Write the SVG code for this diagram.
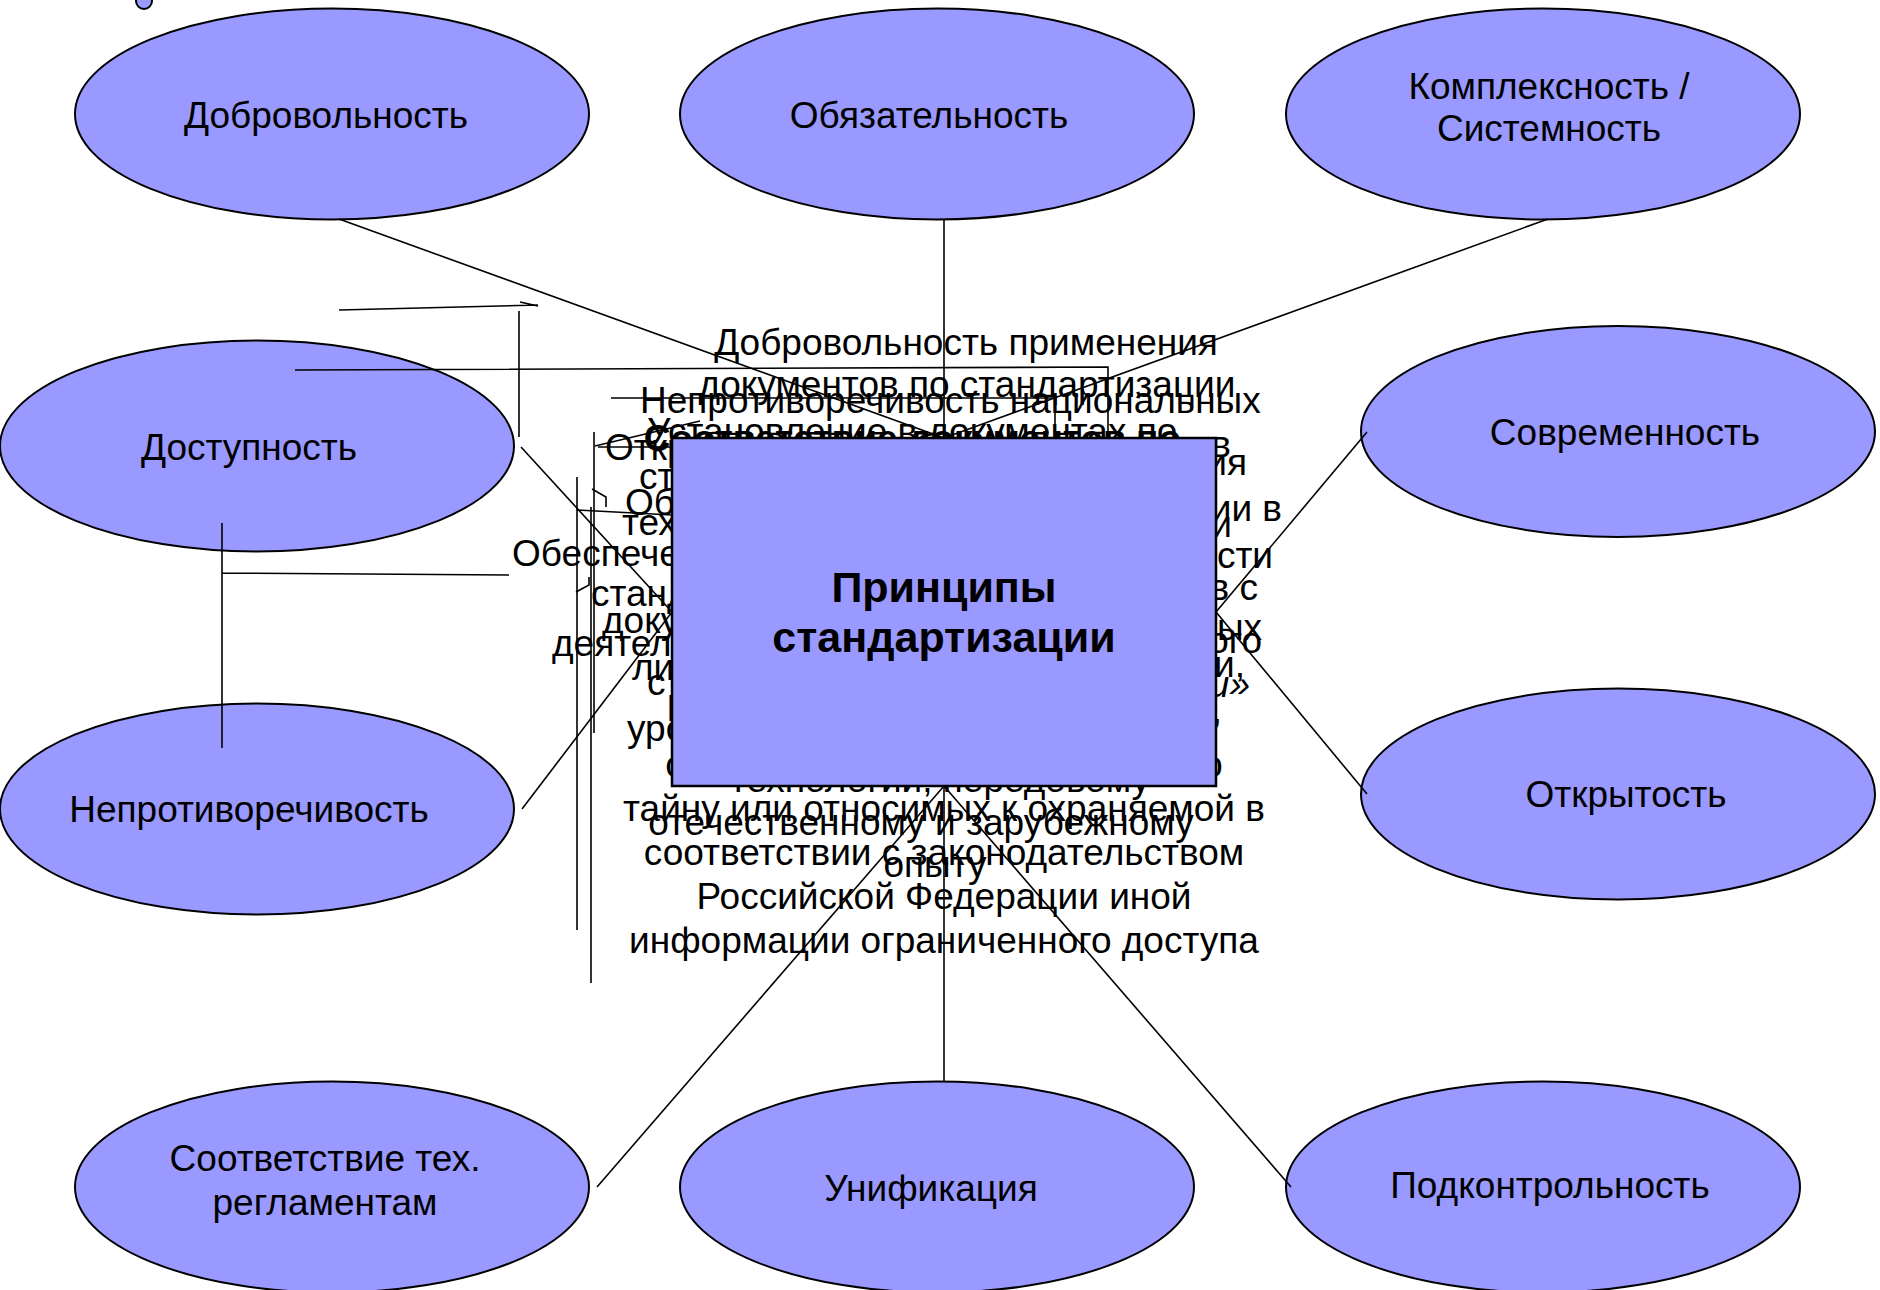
<svg xmlns="http://www.w3.org/2000/svg" width="1880" height="1290" viewBox="0 0 1880 1290">
<style>
.n{fill:#9999FF;stroke:#000;stroke-width:2}
.t{font-family:"Liberation Sans",Arial,sans-serif;font-size:37px;fill:#000}
.c{text-anchor:middle}
.e{text-anchor:end}
.b{font-weight:bold}
.i{font-style:italic}
.ln{stroke:#000;stroke-width:1.6;fill:none}
.title{font-family:"Liberation Sans",Arial,sans-serif;font-size:43px;font-weight:bold;text-anchor:middle;fill:#000}
</style>
<rect width="1880" height="1290" fill="#fff"/>

<g id="dot"><ellipse class="n" cx="144" cy="1" rx="8" ry="8"/></g>

<g id="n-dobrovolnost"><ellipse class="n" cx="332" cy="114" rx="257" ry="105.5"/><text class="t c" x="326" y="128">Добровольность</text></g>
<g id="n-obyazatelnost"><ellipse class="n" cx="937" cy="114" rx="257" ry="105.5"/><text class="t c" x="929" y="128">Обязательность</text></g>
<g id="n-kompleksnost"><ellipse class="n" cx="1543" cy="114" rx="257" ry="105.5"/><text class="t c" x="1549" y="99">Комплексность /</text><text class="t c" x="1549" y="141">Системность</text></g>
<g id="n-dostupnost"><ellipse class="n" cx="257" cy="446" rx="257" ry="105.5"/><text class="t c" x="249" y="460">Доступность</text></g>
<g id="n-sovremennost"><ellipse class="n" cx="1618" cy="431.5" rx="257" ry="105.5"/><text class="t c" x="1625" y="445">Современность</text></g>
<g id="n-neprotivorechivost"><ellipse class="n" cx="257" cy="809" rx="257" ry="105.5"/><text class="t c" x="249" y="822">Непротиворечивость</text></g>
<g id="n-otkrytost"><ellipse class="n" cx="1618" cy="794" rx="257" ry="105.5"/><text class="t c" x="1626" y="807">Открытость</text></g>
<g id="n-sootvetstvie"><ellipse class="n" cx="332" cy="1187" rx="257" ry="105.5"/><text class="t c" x="325" y="1171">Соответствие тех.</text><text class="t c" x="325" y="1215">регламентам</text></g>
<g id="n-unifikaciya"><ellipse class="n" cx="937" cy="1187" rx="257" ry="105.5"/><text class="t c" x="931" y="1201">Унификация</text></g>
<g id="n-podkontrolnost"><ellipse class="n" cx="1543" cy="1187" rx="257" ry="105.5"/><text class="t c" x="1550" y="1198">Подконтрольность</text></g>

<g id="descriptions">
<text class="t c" x="966" y="355">Добровольность применения</text>
<text class="t c" x="967" y="397">документов по стандартизации</text>
<text class="t" x="640" y="413">Непротиворечивость национальных</text>
<text class="t" x="647" y="444">Установление в документах по</text>
<text class="t e b" x="1181" y="451">Соответствие документов по</text>
<text class="t" x="605" y="460">Открытость разработки</text>
<text class="t e" x="1231" y="457">участия в</text>
<text class="t e" x="1247" y="475">обеспечения</text>
<text class="t" x="639" y="489">стандартов</text>
<text class="t" x="625" y="515">Обязательность</text>
<text class="t e" x="1282" y="521">стандартизации в</text>
<text class="t" x="622" y="535">технических</text>
<text class="t e" x="1232" y="537">технологии</text>
<text class="t" x="512" y="566">Обеспечение единства</text>
<text class="t e" x="1273" y="568">стабильности</text>
<text class="t e" x="1258" y="600">интересов с</text>
<text class="t" x="591" y="606">стандартизации</text>
<text class="t" x="602" y="633">документов</text>
<text class="t e" x="1262" y="640">национальных</text>
<text class="t e" x="1262" y="653">федерального</text>
<text class="t" x="552" y="656">деятельности</text>
<text class="t e" x="1245" y="677">стандартизации,</text>
<text class="t" x="632" y="680">лиц</text>
<text class="t" x="647" y="695">с учетом</text>
<text class="t e i" x="1250" y="697">«О стандартизации»</text>
<text class="t b" x="667" y="721">Единство</text>
<text class="t e" x="1222" y="723">технологий,</text>
<text class="t" x="627" y="741">уровню</text>
<text class="t c" x="944" y="777">составляющих государственную</text>
<text class="t c" x="940" y="792">технологий, передовому</text>
<text class="t c" x="944" y="821">тайну или относимых к охраняемой в</text>
<text class="t c" x="921" y="835">отечественному и зарубежному</text>
<text class="t c" x="944" y="865">соответствии с законодательством</text>
<text class="t c" x="935" y="877">опыту</text>
<text class="t c" x="944" y="909">Российской Федерации иной</text>
<text class="t c" x="944" y="953">информации ограниченного доступа</text>
</g>

<g id="stray-lines" class="ln">
<path d="M339 310 L538 305 M520 302 L538 306"/>
<path d="M519 311 V437"/>
<path d="M295 370 L1108 367 V437"/>
<path d="M611 398 H1055 V437"/>
<path d="M595 446 L700 421"/>
<path d="M598 447 H672"/>
<path d="M594 432 V733"/>
<path d="M577 477 V930"/>
<path d="M591 507 V983"/>
<path d="M577 510 L672 515"/>
<path d="M592 489 L606 497 V507"/>
<path d="M576 592 L589 585 V577"/>
<path d="M222 523 V748 M222 573 L509 575"/>
</g>

<g id="connectors" class="ln">
<line x1="339" y1="219" x2="944" y2="438"/>
<line x1="944" y1="219" x2="944" y2="438"/>
<line x1="1548" y1="219" x2="944" y2="438"/>
<line x1="521" y1="447" x2="672" y2="612"/>
<line x1="522" y1="809" x2="672" y2="612"/>
<line x1="1367" y1="432" x2="1216" y2="612"/>
<line x1="1367" y1="794" x2="1216" y2="612"/>
<line x1="944" y1="786" x2="597" y2="1187"/>
<line x1="944" y1="786" x2="944" y2="1081"/>
<line x1="944" y1="786" x2="1291" y2="1187"/>
</g>

<g id="center">
<rect x="672" y="438" width="544" height="348" fill="#9999FF" stroke="#000" stroke-width="2.5"/>
<text class="title" x="944" y="602">Принципы</text>
<text class="title" x="944" y="652">стандартизации</text>
</g>
</svg>
